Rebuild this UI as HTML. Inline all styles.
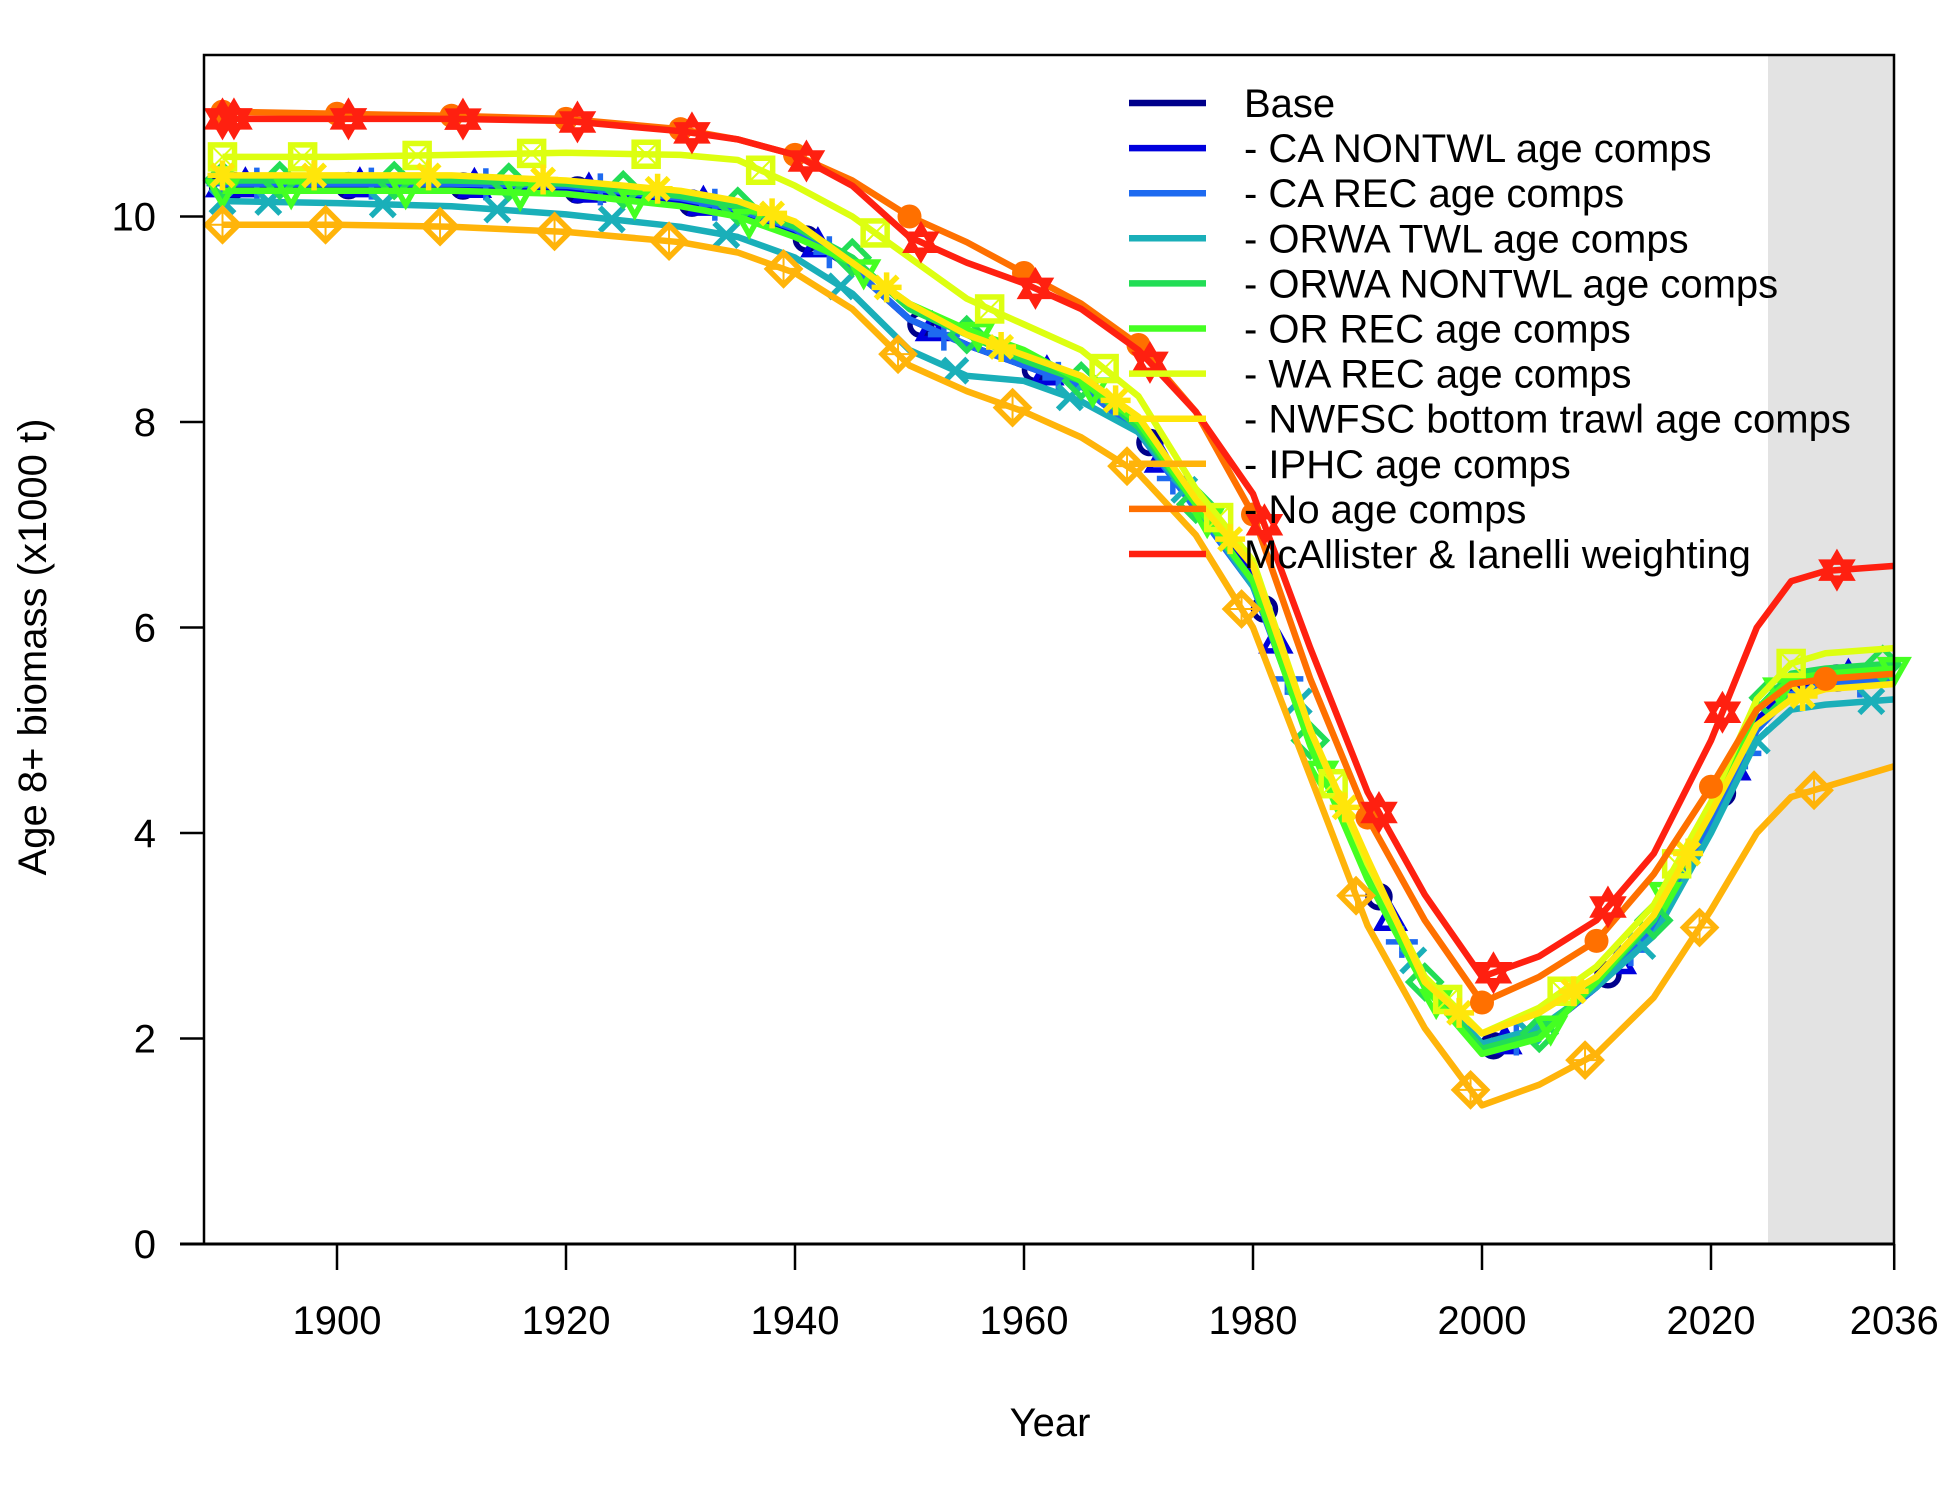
<!DOCTYPE html>
<html><head><meta charset="utf-8"><style>
html,body{margin:0;padding:0;background:#fff}
svg{display:block;font-family:"Liberation Sans",Arial,sans-serif}
</style></head><body>
<svg id="chart" width="1950" height="1500" viewBox="0 0 1950 1500">
<rect x="1768" y="55" width="126" height="1189" fill="#e3e3e3"/>
<g id="series"></g>
<g id="axes"></g>
<g id="legend"></g>
</svg>
<script>
const years=[1890,1900,1910,1920,1930,1935,1940,1945,1950,1955,1960,1965,1970,1975,1980,1985,1990,1995,2000,2005,2010,2015,2020,2024,2027,2030,2036];
const seriesNames=["Base","- CA NONTWL age comps","- CA REC age comps","- ORWA TWL age comps","- ORWA NONTWL age comps","- OR REC age comps","- WA REC age comps","- NWFSC bottom trawl age comps","- IPHC age comps","- No age comps","McAllister & Ianelli weighting"];
const colors=["#00008B","#0000DD","#1E6AF0","#1AAFB9","#22DD55","#44FF22","#DDFF11","#FFE60A","#FFB40A","#FF7000","#FF2010"];
const sBase=[10.3,10.3,10.3,10.27,10.15,10.05,9.85,9.5,9.0,8.75,8.55,8.35,7.95,7.2,6.5,4.9,3.6,2.5,1.9,2.05,2.5,3.1,4.15,5.1,5.4,5.5,5.55];
const sCaNontwl=[10.3,10.3,10.3,10.27,10.16,10.06,9.86,9.5,9.0,8.75,8.55,8.35,7.9,7.2,6.5,4.9,3.6,2.5,1.9,2.05,2.5,3.1,4.15,5.1,5.4,5.5,5.55];
const sCaRec=[10.32,10.32,10.32,10.3,10.18,10.07,9.88,9.5,9.0,8.75,8.55,8.35,7.9,7.15,6.4,4.9,3.6,2.5,1.9,2.05,2.5,3.1,4.1,5.0,5.35,5.45,5.5];
const sOrwaTwl=[10.15,10.13,10.1,10.02,9.9,9.8,9.6,9.25,8.7,8.45,8.4,8.2,7.9,7.2,6.4,5.0,3.6,2.55,1.95,2.1,2.5,3.0,4.0,4.9,5.2,5.25,5.3];
const sOrwaNontwl=[10.35,10.35,10.35,10.32,10.2,10.1,9.9,9.6,9.1,8.85,8.6,8.4,7.95,7.2,6.45,4.9,3.6,2.55,1.9,2.05,2.55,3.15,4.2,5.2,5.55,5.6,5.65];
const sOrRec=[10.25,10.25,10.25,10.22,10.1,10.0,9.8,9.55,9.15,8.9,8.7,8.4,8.0,7.2,6.45,4.85,3.55,2.5,1.85,2.0,2.55,3.2,4.25,5.2,5.5,5.55,5.6];
const sWaRec=[10.58,10.58,10.6,10.62,10.6,10.55,10.3,10.0,9.6,9.2,8.95,8.7,8.25,7.35,6.65,5.0,3.7,2.6,2.05,2.3,2.7,3.3,4.3,5.3,5.65,5.75,5.8];
const sNwfsc=[10.4,10.4,10.4,10.35,10.25,10.15,9.95,9.55,9.15,8.85,8.65,8.45,8.05,7.25,6.6,5.0,3.75,2.55,2.05,2.25,2.6,3.2,4.2,5.05,5.3,5.4,5.45];
const sIphc=[9.92,9.92,9.9,9.85,9.75,9.65,9.45,9.1,8.55,8.3,8.1,7.85,7.5,6.9,6.0,4.55,3.1,2.1,1.35,1.55,1.85,2.4,3.25,4.0,4.35,4.45,4.65];
const sNoAge=[11.02,11.0,10.98,10.95,10.85,10.75,10.6,10.35,10.0,9.75,9.45,9.15,8.75,8.1,7.1,5.5,4.15,3.15,2.35,2.6,2.95,3.6,4.45,5.2,5.45,5.5,5.55];
const sMcA=[10.95,10.95,10.95,10.93,10.83,10.75,10.6,10.3,9.8,9.55,9.35,9.1,8.7,8.1,7.3,5.8,4.4,3.4,2.6,2.8,3.15,3.8,4.9,6.0,6.45,6.55,6.6];
const xTicks=[1900,1920,1940,1960,1980,2000,2020,2036];
const yTicks=[0,2,4,6,8,10];
const allSeries=[sBase,sCaNontwl,sCaRec,sOrwaTwl,sOrwaNontwl,sOrRec,sWaRec,sNwfsc,sIphc,sNoAge,sMcA];
const markerOffsets=[1,2,3,4,5,6,7,8,9,0,1];

const L=204,R=1894,T=55,B=1244;
const X=y=>337+(y-1900)*11.45;
const Y=v=>1244-v*102.75;
const NS="http://www.w3.org/2000/svg";
function mk(tag,attrs,parent){const e=document.createElementNS(NS,tag);for(const k in attrs)e.setAttribute(k,attrs[k]);parent.appendChild(e);return e;}
function interp(s,yr){for(let i=0;i<years.length-1;i++){if(yr>=years[i]&&yr<=years[i+1]){const t=(yr-years[i])/(years[i+1]-years[i]);return s[i]+t*(s[i+1]-s[i]);}}return s[s.length-1];}
function marker(type,cx,cy,col,g){
  const sw=5.5;const a={stroke:col,'stroke-width':sw,fill:'none'};
  switch(type){
    case 0: mk('circle',Object.assign({cx,cy,r:11},a),g);break;
    case 1: mk('polygon',Object.assign({points:`${cx},${cy-14} ${cx+13},${cy+9} ${cx-13},${cy+9}`},a),g);break;
    case 2: mk('path',Object.assign({d:`M${cx-16},${cy}H${cx+16}M${cx},${cy-16}V${cy+16}`},a),g);break;
    case 3: mk('path',Object.assign({d:`M${cx-12},${cy-12}L${cx+12},${cy+12}M${cx-12},${cy+12}L${cx+12},${cy-12}`},a),g);break;
    case 4: mk('polygon',Object.assign({points:`${cx},${cy-16} ${cx+16},${cy} ${cx},${cy+16} ${cx-16},${cy}`},a),g);break;
    case 5: mk('polygon',Object.assign({points:`${cx},${cy+14} ${cx+13},${cy-9} ${cx-13},${cy-9}`},a),g);break;
    case 6: mk('rect',Object.assign({x:cx-12,y:cy-12,width:24,height:24},a),g);
            mk('path',{d:`M${cx-12},${cy-12}L${cx+12},${cy+12}M${cx-12},${cy+12}L${cx+12},${cy-12}`,stroke:col,'stroke-width':2},g);break;
    case 7: mk('path',Object.assign({d:`M${cx-15},${cy}H${cx+15}M${cx},${cy-15}V${cy+15}M${cx-11},${cy-11}L${cx+11},${cy+11}M${cx-11},${cy+11}L${cx+11},${cy-11}`},a),g);break;
    case 8: mk('polygon',Object.assign({points:`${cx},${cy-16} ${cx+16},${cy} ${cx},${cy+16} ${cx-16},${cy}`},a),g);
            mk('path',{d:`M${cx-16},${cy}H${cx+16}M${cx},${cy-16}V${cy+16}`,stroke:col,'stroke-width':2},g);break;
    case 9: mk('circle',{cx,cy,r:12,fill:col},g);break;
    case 10: mk('polygon',Object.assign({points:`${cx},${cy-16} ${cx+14},${cy+8} ${cx-14},${cy+8}`},a),g);
             mk('polygon',Object.assign({points:`${cx},${cy+16} ${cx+14},${cy-8} ${cx-14},${cy-8}`},a),g);break;
  }
}
const sg=document.getElementById('series');
allSeries.forEach((s,i)=>{
  const g=mk('g',{},sg);
  
  
  const line=mk('polyline',{points:years.map((y,j)=>X(y).toFixed(1)+','+Y(s[j]).toFixed(1)).join(' '),fill:'none',stroke:colors[i],'stroke-width':6.5,'stroke-linejoin':'round'},g);
  
  
  const myrs=[years[0]];
  for(let yr=1890+markerOffsets[i];yr<=2036;yr+=10){if(yr>years[0])myrs.push(yr);}
  myrs.forEach(yr=>marker(i,X(yr),Y(interp(s,yr)),colors[i],g));
});
const ax=document.getElementById('axes');
mk('rect',{x:L,y:T,width:R-L,height:B-T,fill:'none',stroke:'#000','stroke-width':2.5},ax);
mk('line',{x1:180,y1:B,x2:R,y2:B,stroke:'#000','stroke-width':3},ax);
xTicks.forEach(t=>{
  mk('line',{x1:X(t),y1:B,x2:X(t),y2:B+26,stroke:'#000','stroke-width':2.5},ax);
  const tx=mk('text',{x:X(t),y:1334,'font-size':40,'text-anchor':'middle',fill:'#000'},ax);
  tx.textContent=t;
  
  
});
yTicks.forEach(t=>{
  mk('line',{x1:180,y1:Y(t),x2:L,y2:Y(t),stroke:'#000','stroke-width':2.5},ax);
  const tx=mk('text',{x:156,y:Y(t)+14,'font-size':40,'text-anchor':'end',fill:'#000'},ax);
  tx.textContent=t;
  
  
});
const xt=mk('text',{x:1050,y:1436,'font-size':40,'text-anchor':'middle'},ax);
xt.textContent='Year';


const yt=mk('text',{x:0,y:0,'font-size':40,'text-anchor':'middle',transform:'translate(46,647) rotate(-90)'},ax);
yt.textContent='Age 8+ biomass (x1000 t)';


const lg=document.getElementById('legend');
seriesNames.forEach((n,i)=>{
  const yy=103+45.1*i;
  const g=mk('g',{},lg);
  
  
  mk('line',{x1:1129,y1:yy,x2:1206,y2:yy,stroke:colors[i],'stroke-width':6.5},g);
  const t=mk('text',{x:1244,y:yy+14,'font-size':40,fill:'#000'},g);
  t.textContent=n;
});
</script>
</body></html>
